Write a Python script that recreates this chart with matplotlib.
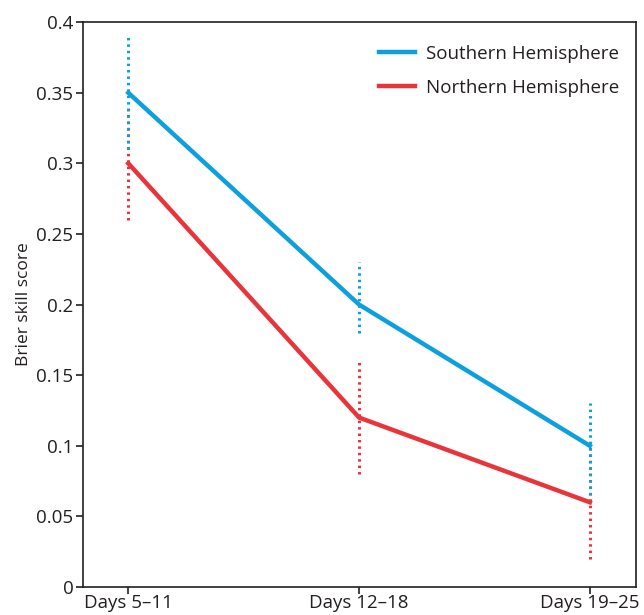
import matplotlib
matplotlib.use("Agg")
import matplotlib.pyplot as plt

categories = ["Days 5\u201311", "Days 12\u201318", "Days 19\u201325"]
south = [0.35, 0.20, 0.10]
south_lo = [0.31, 0.18, 0.065]
south_hi = [0.39, 0.23, 0.13]
north = [0.30, 0.12, 0.06]
north_lo = [0.26, 0.08, 0.02]
north_hi = [0.34, 0.16, 0.10]
yticks = [0, 0.05, 0.1, 0.15, 0.2, 0.25, 0.3, 0.35, 0.4]
yticklabels = ["0", "0.05", "0.1", "0.15", "0.2", "0.25", "0.3", "0.35", "0.4"]

plt.rcParams['font.family'] = ['Open Sans', 'DejaVu Sans']
blue = "#0DA0DC"
red = "#E8343B"
txt = "#231F20"
fs = 13.5

fig = plt.figure(figsize=(6.44, 6.15), dpi=100)
ax = fig.add_axes([0.129, 0.0455, 0.8586, 0.9185])
x = list(range(len(categories)))

for i in x:
    ax.plot([i, i], [north_lo[i], north_hi[i]], color=red, lw=2.2,
            linestyle=(0, (0.8, 1.3)), zorder=2)
    ax.plot([i, i], [south_lo[i], south_hi[i]], color=blue, lw=2.2,
            linestyle=(0, (0.8, 1.3)), zorder=2)

ax.plot(x, south, color=blue, lw=3.2, label="Southern Hemisphere", zorder=3)
ax.plot(x, north, color=red, lw=3.2, label="Northern Hemisphere", zorder=3)

ax.set_xlim(-0.196, 2.2)
ax.set_ylim(0, 0.4)
ax.set_xticks(x)
ax.set_xticklabels(categories, fontsize=fs, color=txt)
ax.set_yticks(yticks)
ax.set_yticklabels(yticklabels, fontsize=fs, color=txt)
ax.tick_params(axis='both', direction='out', length=5, width=1.2, colors=txt,
               labelcolor=txt, pad=2)
ax.tick_params(axis='x', pad=0)
for s in ax.spines.values():
    s.set_linewidth(1.2)
    s.set_color(txt)
ax.set_ylabel("Brier skill score", fontsize=12.5, color=txt, labelpad=3)

leg = ax.legend(loc="upper right", frameon=False, fontsize=fs,
                handlelength=1.9, handletextpad=0.6, labelspacing=0.85,
                bbox_to_anchor=(1.0, 0.99))
for t in leg.get_texts():
    t.set_color(txt)

fig.savefig("out.png", dpi=100)
